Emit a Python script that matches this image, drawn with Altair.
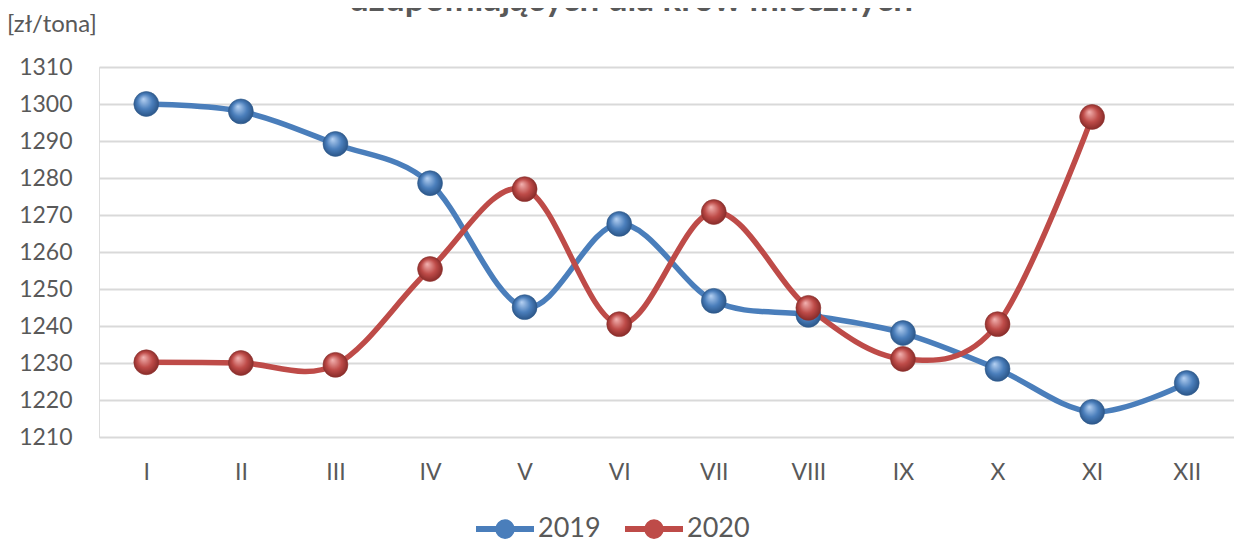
import altair as alt
import pandas as pd

months = ["I", "II", "III", "IV", "V", "VI", "VII", "VIII", "IX", "X", "XI", "XII"]
v2019 = [1300.0, 1298.0, 1289.2, 1278.6, 1245.1, 1267.6, 1246.8, 1243.0, 1238.1, 1228.4, 1216.8, 1224.6]
v2020 = [1230.2, 1230.0, 1229.5, 1255.4, 1277.0, 1240.5, 1270.8, 1244.9, 1231.1, 1240.5, 1296.5]
years = ["2019", "2020"]
y_ticks = [1210, 1220, 1230, 1240, 1250, 1260, 1270, 1280, 1290, 1300, 1310]
title_line = "uzupełniających dla krów mlecznych"
unit_label = "[zł/tona]"

BLUE = "#4a7ebb"
RED = "#be4b48"
GREY = "#595959"
FONT = "Lato"

rows = []
for m, v in zip(months, v2019):
    rows.append({"month": m, "value": v, "year": "2019"})
for m, v in zip(months, v2020):
    rows.append({"month": m, "value": v, "year": "2020"})
df = pd.DataFrame(rows)

x_enc = alt.X("month:N", sort=months, scale=alt.Scale(type="point", padding=0.5),
              axis=alt.Axis(title=None, labelAngle=0, ticks=False, domain=False, grid=False,
                            labelFont=FONT, labelFontSize=23, labelColor=GREY, labelPadding=24))
y_enc = alt.Y("value:Q", scale=alt.Scale(domain=[1210, 1310], nice=False, zero=False),
              axis=alt.Axis(title=None, values=y_ticks, format="d", ticks=False, domain=False,
                            grid=True, gridColor="#d9d9d9", gridWidth=2,
                            labelFont=FONT, labelFontSize=23, labelColor=GREY, labelPadding=27))

# stroke-drawn legend glyph: a line plus a filled-looking disc (two concentric rings)
legend_path = ("M-1,0 H1 "
               "M0.233,0 A0.233,0.233 0 1,1 -0.233,0 A0.233,0.233 0 1,1 0.233,0 "
               "M0.07,0 A0.07,0.07 0 1,1 -0.07,0 A0.07,0.07 0 1,1 0.07,0")

lines = alt.Chart(df).mark_line(interpolate="cardinal", strokeWidth=5.5).encode(
    x=x_enc, y=y_enc,
    color=alt.Color("year:N", scale=alt.Scale(domain=years, range=[BLUE, RED]),
                    legend=alt.Legend(title=None, orient="none", legendX=374, legendY=430,
                                      direction="horizontal", symbolType=legend_path,
                                      symbolSize=3364, symbolStrokeWidth=6,
                                      labelFont=FONT, labelFontSize=27, labelColor=GREY,
                                      labelOffset=1, columnPadding=12, padding=0)),
    detail="year:N",
)


def sphere(light, mid, dark):
    return alt.RadialGradient(
        gradient="radial",
        stops=[alt.GradientStop(color=light, offset=0),
               alt.GradientStop(color=mid, offset=0.55),
               alt.GradientStop(color=dark, offset=1)],
        x1=0.38, y1=0.3, r1=0, x2=0.5, y2=0.5, r2=0.55,
    )


pts_2019 = alt.Chart(df).transform_filter(alt.datum.year == "2019").mark_point(
    filled=True, size=620, opacity=1, fill=sphere("#b7d2f3", "#4a7ebb", "#264f80"),
    stroke="#2f5a8c", strokeWidth=0.6,
).encode(x=x_enc, y=y_enc)

pts_2020 = alt.Chart(df).transform_filter(alt.datum.year == "2020").mark_point(
    filled=True, size=620, opacity=1, fill=sphere("#f3b4b2", "#be4b48", "#7f2624"),
    stroke="#8c302e", strokeWidth=0.6,
).encode(x=x_enc, y=y_enc)

title_df = pd.DataFrame({"t": [title_line]})
title = alt.Chart(title_df).mark_text(
    font=FONT, fontSize=35, fontWeight="bold", color=GREY, align="center", baseline="alphabetic"
).encode(x=alt.value(532), y=alt.value(-56), text="t:N")

unit_df = pd.DataFrame({"t": [unit_label]})
unit = alt.Chart(unit_df).mark_text(
    font=FONT, fontSize=24, color=GREY, align="left", baseline="alphabetic"
).encode(x=alt.value(-92), y=alt.value(-35), text="t:N")

chart = alt.layer(lines, pts_2019, pts_2020, title, unit).properties(
    width=1135, height=370,
    autosize=alt.AutoSizeParams(type="none"),
    padding={"left": 91, "top": 59, "right": 0, "bottom": 105},
).configure_view(stroke=None).configure(background="white")

chart.save("out.html", embed_options={"renderer": "svg", "actions": False})
